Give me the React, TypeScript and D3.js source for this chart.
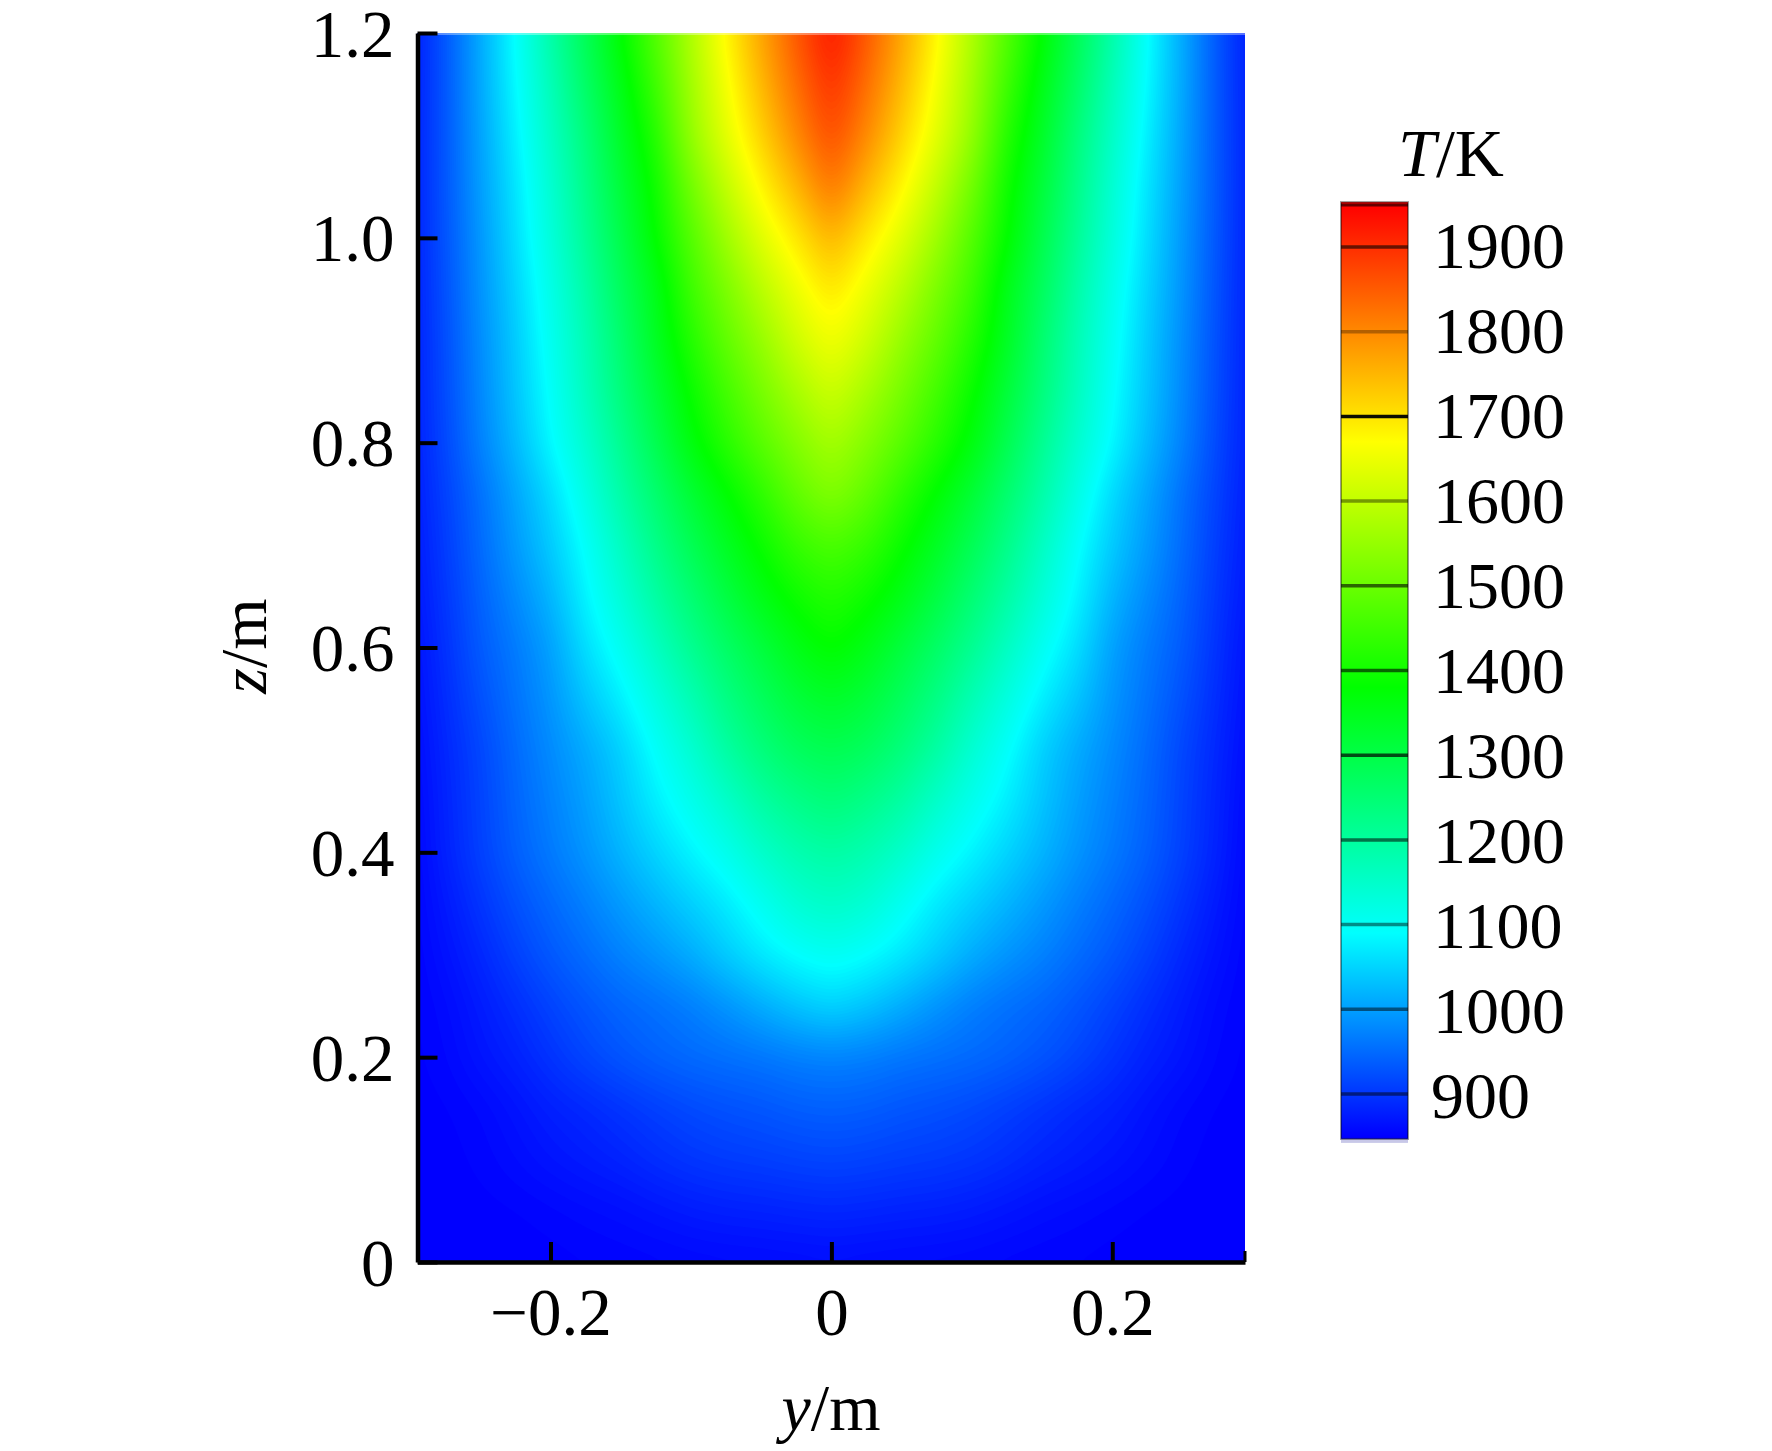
import React, { useEffect, useRef } from "react";
import * as d3 from "d3";

// |y| positions of the table columns, mirrored around y = 0 when drawing
const yColumns = [0, 0.025, 0.05, 0.075, 0.1, 0.125, 0.15, 0.175, 0.2, 0.225, 0.25, 0.275, 0.3];
const zRows = [0, 0.05, 0.1, 0.15, 0.2, 0.25, 0.3, 0.35, 0.4, 0.45, 0.5, 0.55, 0.6, 0.65, 0.7, 0.75, 0.8, 0.85, 0.9, 0.95, 1.0, 1.05, 1.1, 1.15, 1.2];

// temperature, one row per entry of zRows
const tempTable = [
  [860, 858, 857, 856, 855, 853, 852, 851, 850, 850, 850, 850, 850],
  [885, 883, 880, 878, 874, 868, 862, 858, 854, 851, 850, 850, 850],
  [915, 912, 908, 905, 900, 892, 882, 875, 868, 860, 853, 850, 850],
  [940, 937, 930, 925, 918, 908, 897, 886, 878, 866, 856, 851, 850],
  [972, 968, 960, 955, 950, 942, 930, 915, 897, 880, 868, 855, 850],
  [1050, 1035, 1012, 988, 968, 955, 945, 930, 912, 892, 874, 858, 850],
  [1105, 1092, 1070, 1042, 1012, 990, 972, 952, 933, 910, 885, 865, 850],
  [1155, 1140, 1105, 1070, 1045, 1020, 995, 970, 948, 925, 898, 872, 850],
  [1195, 1180, 1150, 1110, 1080, 1050, 1020, 990, 965, 940, 910, 880, 850],
  [1245, 1225, 1195, 1150, 1110, 1075, 1035, 1000, 972, 945, 912, 882, 852],
  [1290, 1275, 1240, 1195, 1140, 1095, 1045, 1010, 980, 950, 915, 885, 855],
  [1335, 1315, 1275, 1230, 1175, 1125, 1075, 1035, 990, 958, 925, 890, 858],
  [1385, 1355, 1310, 1265, 1215, 1160, 1105, 1060, 1000, 965, 935, 895, 860],
  [1420, 1395, 1355, 1305, 1250, 1195, 1135, 1080, 1020, 980, 942, 900, 865],
  [1465, 1440, 1390, 1340, 1285, 1225, 1160, 1095, 1040, 995, 950, 905, 868],
  [1530, 1490, 1430, 1375, 1320, 1255, 1190, 1120, 1055, 1005, 955, 910, 870],
  [1570, 1530, 1480, 1425, 1365, 1290, 1215, 1145, 1085, 1025, 972, 916, 872],
  [1615, 1570, 1515, 1455, 1390, 1315, 1240, 1165, 1095, 1035, 978, 920, 872],
  [1660, 1615, 1550, 1490, 1420, 1340, 1255, 1175, 1105, 1040, 982, 922, 872],
  [1700, 1650, 1590, 1520, 1450, 1350, 1275, 1190, 1115, 1048, 988, 925, 872],
  [1755, 1695, 1635, 1560, 1475, 1382, 1295, 1210, 1130, 1058, 992, 928, 872],
  [1825, 1750, 1680, 1600, 1510, 1395, 1315, 1225, 1140, 1065, 998, 930, 872],
  [1870, 1800, 1720, 1640, 1550, 1420, 1335, 1240, 1155, 1075, 1003, 930, 872],
  [1900, 1830, 1748, 1660, 1565, 1450, 1355, 1265, 1170, 1085, 1008, 930, 870],
  [1930, 1855, 1770, 1680, 1580, 1475, 1380, 1285, 1190, 1092, 1010, 930, 868],
];

const yTicks = [-0.2, 0, 0.2];
const zTicks = [0, 0.2, 0.4, 0.6, 0.8, 1.0, 1.2];
const legendTicks = [900, 1000, 1100, 1200, 1300, 1400, 1500, 1600, 1700, 1800, 1900];
const legendLineAlpha = [0.5, 0.5, 0.45, 0.55, 0.7, 0.6, 0.6, 0.4, 0.95, 0.3, 0.6];
const colorStops = [850, 1090, 1380, 1670, 1950];
const colorNames = ["#0000ff", "#00ffff", "#00ff00", "#ffff00", "#ff0000"];

const serif = "'Liberation Serif', 'Times New Roman', serif";
const upsample = 8;

// fine grid for the contours: linear between table entries, lightly blurred
function fineGrid() {
  const cols = [...yColumns.slice(1).reverse().map((v) => -v), ...yColumns];
  const fullRows = tempTable.map((r) => [...r.slice(1).reverse(), ...r]);
  const w = (cols.length - 1) * upsample + 1;
  const h = (zRows.length - 1) * upsample + 1;
  const data = new Float64Array(w * h);
  for (let j = 0; j < h; j++) {
    const j0 = Math.min(Math.floor(j / upsample), zRows.length - 2);
    const ft = j / upsample - j0;
    for (let i = 0; i < w; i++) {
      const i0 = Math.min(Math.floor(i / upsample), cols.length - 2);
      const fs = i / upsample - i0;
      const a = fullRows[j0][i0] * (1 - fs) + fullRows[j0][i0 + 1] * fs;
      const b = fullRows[j0 + 1][i0] * (1 - fs) + fullRows[j0 + 1][i0 + 1] * fs;
      data[j * w + i] = a * (1 - ft) + b * ft;
    }
  }
  d3.blur2({ data, width: w, height: h }, 2);
  return { data, w, h, yMin: cols[0], yMax: cols[cols.length - 1] };
}

export default function App() {
  const svgRef = useRef<SVGSVGElement>(null);

  useEffect(() => {
    const left = 417.5;
    const right = 1245;
    const top = 33;
    const bottom = 1262;

    const yScale = d3.scaleLinear().domain([-0.2947, 0.2945]).range([left, right]);
    const zScale = d3.scaleLinear().domain([0, 1.2]).range([bottom, top]);
    const color = d3.scaleLinear<string>().domain(colorStops).range(colorNames).clamp(true);

    const svg = d3.select(svgRef.current).attr("width", 1772).attr("height", 1451);
    svg.selectAll("*").remove();

    const defs = svg.append("defs");
    defs
      .append("clipPath")
      .attr("id", "plot-clip")
      .append("rect")
      .attr("x", left)
      .attr("y", top)
      .attr("width", right - left)
      .attr("height", bottom - top);

    const field = svg.append("g").attr("clip-path", "url(#plot-clip)");
    field
      .append("rect")
      .attr("x", left)
      .attr("y", top)
      .attr("width", right - left)
      .attr("height", bottom - top)
      .attr("fill", color(850));

    const { data, w, h, yMin, yMax } = fineGrid();
    const gridX = d3.scaleLinear().domain([0.5, w - 0.5]).range([yMin, yMax]);
    const gridZ = d3.scaleLinear().domain([0.5, h - 0.5]).range([0, 1.2]);
    const path = d3.geoPath(
      d3.geoTransform({
        point(x, y) {
          this.stream.point(yScale(gridX(x)), zScale(gridZ(y)));
        },
      })
    );
    const thresholds = d3.range(852, 1950, 4);
    const contours = d3.contours().size([w, h]).thresholds(thresholds)(Array.from(data));
    field
      .selectAll("path")
      .data(contours)
      .join("path")
      .attr("d", (d) => path(d as any))
      .attr("fill", (d) => color(d.value + 2));

    // thin light edge on the top of the field
    field
      .append("rect")
      .attr("x", left)
      .attr("y", top)
      .attr("width", right - left)
      .attr("height", 2)
      .attr("fill", "#fff")
      .attr("opacity", 0.35);

    const fontSize = 67;

    const zAxis = svg
      .append("g")
      .attr("transform", `translate(${left},0)`)
      .call(
        d3
          .axisLeft(zScale)
          .tickValues(zTicks)
          .tickSize(-20)
          .tickSizeOuter(0)
          .tickPadding(23)
          .tickFormat((d) => (+d === 0 ? "0" : d3.format(".1f")(+d)))
      );
    const xAxis = svg
      .append("g")
      .attr("transform", `translate(0,${bottom})`)
      .call(
        d3
          .axisBottom(yScale)
          .tickValues(yTicks)
          .tickSize(-20)
          .tickSizeOuter(0)
          .tickPadding(0)
          .tickFormat((d) => (+d === 0 ? "0" : d3.format(".1f")(+d).replace("-", "\u2212")))
      );

    [zAxis, xAxis].forEach((ax) => {
      ax.attr("font-family", serif).attr("font-size", fontSize);
      ax.selectAll("text").attr("fill", "#000");
      ax.selectAll(".domain").attr("stroke", "#000").attr("stroke-width", 4.5);
      ax.selectAll(".tick line").attr("stroke", "#000").attr("stroke-width", 4);
    });
    zAxis.selectAll("text").attr("dy", 23);
    xAxis.selectAll("text").attr("y", 73).attr("dy", 0);

    // small end tick at the right of the y axis
    svg
      .append("line")
      .attr("x1", right)
      .attr("x2", right)
      .attr("y1", bottom)
      .attr("y2", bottom - 11)
      .attr("stroke", "#000")
      .attr("stroke-width", 3);

    const xTitle = svg
      .append("text")
      .attr("x", 831)
      .attr("y", 1430)
      .attr("text-anchor", "middle")
      .attr("font-family", serif)
      .attr("font-size", 66);
    xTitle.append("tspan").attr("font-style", "italic").text("y");
    xTitle.append("tspan").text("/m");

    const zTitle = svg
      .append("text")
      .attr("transform", "translate(266,646) rotate(-90)")
      .attr("text-anchor", "middle")
      .attr("font-family", serif)
      .attr("font-size", 66);
    zTitle.append("tspan").attr("font-style", "italic").text("z");
    zTitle.append("tspan").text("/m");

    // colour legend
    const legX = 1341;
    const legW = 67;
    const legendY = d3.scaleLinear().domain([900, 1900]).range([1094, 247]);
    const legendBase = d3.scaleLinear().domain([900, 1900]).range([1118, 268]);
    const legMin = 847;
    const legMax = 1953;

    const grad = defs
      .append("linearGradient")
      .attr("id", "legend-grad")
      .attr("x1", 0)
      .attr("x2", 0)
      .attr("y1", 1)
      .attr("y2", 0);
    grad
      .selectAll("stop")
      .data(colorStops)
      .join("stop")
      .attr("offset", (d) => (d - legMin) / (legMax - legMin))
      .attr("stop-color", (d) => color(d));

    const legend = svg.append("g");
    legend
      .append("rect")
      .attr("x", legX)
      .attr("y", legendY(legMin))
      .attr("width", legW)
      .attr("height", 4)
      .attr("fill", "#c8c8e8");
    legend
      .append("rect")
      .attr("x", legX)
      .attr("y", legendY(legMax))
      .attr("width", legW)
      .attr("height", legendY(legMin) - legendY(legMax))
      .attr("fill", "url(#legend-grad)")
      .attr("stroke", "#000")
      .attr("stroke-opacity", 0.4)
      .attr("stroke-width", 2);

    legend
      .append("line")
      .attr("x1", legX)
      .attr("x2", legX + legW)
      .attr("y1", legendY(legMax) + 3)
      .attr("y2", legendY(legMax) + 3)
      .attr("stroke", "#000")
      .attr("stroke-opacity", 0.6)
      .attr("stroke-width", 3);

    legend
      .selectAll("line.mark")
      .data(legendTicks)
      .join("line")
      .attr("class", "mark")
      .attr("x1", legX)
      .attr("x2", legX + legW)
      .attr("y1", (d) => legendY(d))
      .attr("y2", (d) => legendY(d))
      .attr("stroke", "#000")
      .attr("stroke-opacity", (d, i) => legendLineAlpha[i])
      .attr("stroke-width", 3.5);

    legend
      .selectAll("text.label")
      .data(legendTicks)
      .join("text")
      .attr("class", "label")
      .attr("x", (d) => (d === 900 ? 1431 : 1433))
      .attr("y", (d) => legendBase(d))
      .attr("font-family", serif)
      .attr("font-size", 66)
      .text((d) => d);

    const legendTitle = svg
      .append("text")
      .attr("x", 1451)
      .attr("y", 176)
      .attr("text-anchor", "middle")
      .attr("font-family", serif)
      .attr("font-size", 68);
    legendTitle.append("tspan").attr("font-style", "italic").text("T");
    legendTitle.append("tspan").text("/K");
  }, []);

  return <svg ref={svgRef} style={{ position: "absolute", left: 0, top: 0 }}></svg>;
}
